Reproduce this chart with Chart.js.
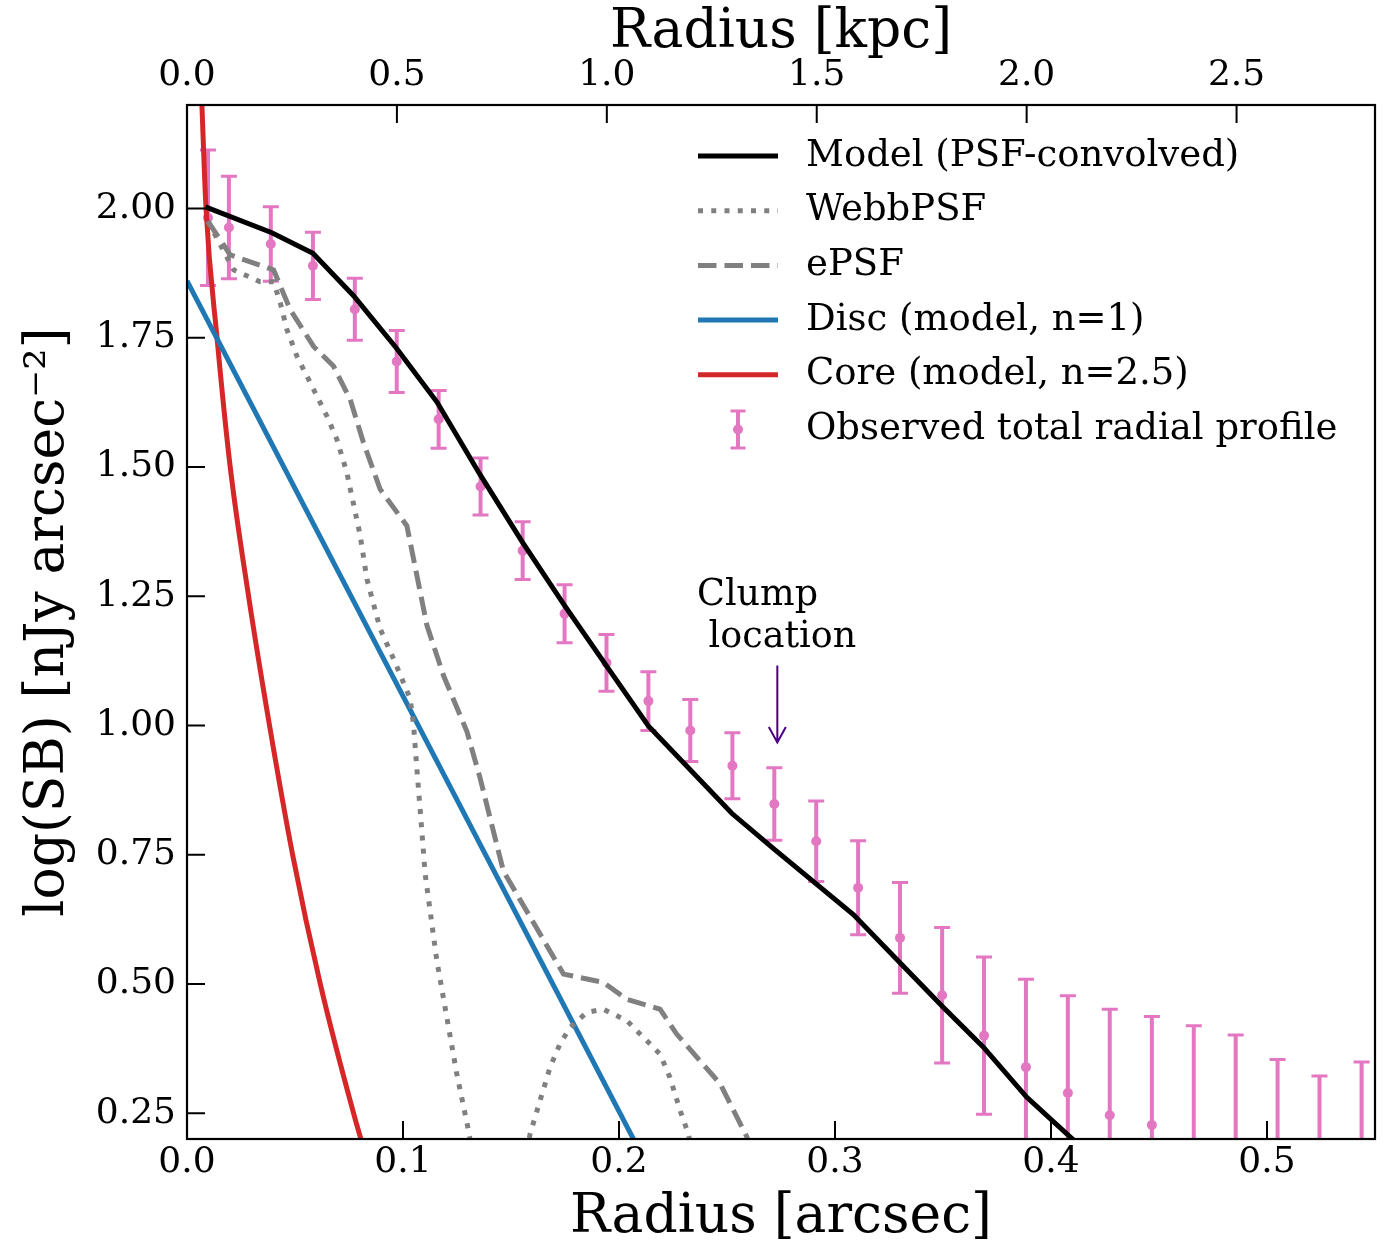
<!DOCTYPE html>
<html>
<head>
<meta charset="utf-8">
<script src="https://cdn.jsdelivr.net/npm/chart.js@4.4.1/dist/chart.umd.min.js"></script>
<style>
  html, body { margin: 0; padding: 0; background: #fff; }
</style>
</head>
<body>
<canvas id="myChart" width="1386" height="1245"></canvas>
<script>
const FONT = "'DejaVu Serif', serif";

// axis ticks
const X_TICKS = [0.0, 0.1, 0.2, 0.3, 0.4, 0.5];
const KPC_TICKS = [0.0, 0.5, 1.0, 1.5, 2.0, 2.5];
const Y_TICKS = [0.25, 0.50, 0.75, 1.00, 1.25, 1.50, 1.75, 2.00];
const X_MAX = 0.55;
const KPC_PER_ARCSEC = 5.145;

// observed radial profile (arcsec, log SB, error)
const OBS_X = [0.0097, 0.0194, 0.0388, 0.0583, 0.0777, 0.0971, 0.1165, 0.1359, 0.1554, 0.1748,
  0.1942, 0.2136, 0.2330, 0.2525, 0.2719, 0.2913, 0.3107, 0.3301, 0.3496, 0.3690,
  0.3884, 0.4078, 0.4272, 0.4467, 0.4661, 0.4855, 0.5049, 0.5243, 0.5438];
const OBS_Y = [1.982, 1.963, 1.931, 1.889, 1.805, 1.704, 1.592, 1.462, 1.338, 1.216,
  1.121, 1.047, 0.990, 0.922, 0.848, 0.776, 0.686, 0.589, 0.478, 0.400,
  0.339, 0.289, 0.246, 0.227, 0.190, 0.160, 0.100, 0.060, 0.080];
const OBS_ERR = [0.131, 0.099, 0.072, 0.065, 0.060, 0.060, 0.056, 0.055, 0.056, 0.056,
  0.055, 0.057, 0.060, 0.064, 0.070, 0.078, 0.091, 0.107, 0.131, 0.152,
  0.170, 0.188, 0.205, 0.210, 0.229, 0.241, 0.254, 0.262, 0.269];

// model (PSF-convolved)
const MODEL_X = [0.0085, 0.0393, 0.0583, 0.0771, 0.0969, 0.1158, 0.1357, 0.1552, 0.1746, 0.1942,
  0.2136, 0.2522, 0.2714, 0.3085, 0.3301, 0.3501, 0.3686, 0.3887, 0.4183];
const MODEL_Y = [2.003, 1.953, 1.913, 1.831, 1.730, 1.625, 1.485, 1.355, 1.233, 1.115,
  0.999, 0.830, 0.762, 0.634, 0.541, 0.455, 0.378, 0.281, 0.168];

// WebbPSF
const WEBB_X = [0.0097, 0.0216, 0.0339, 0.0401, 0.0432, 0.0463, 0.0509, 0.0586, 0.0648, 0.0694,
  0.0740, 0.0802, 0.0833, 0.0894, 0.0956, 0.1033, 0.1049, 0.1064, 0.1080, 0.1103,
  0.1157, 0.1203, 0.1249, 0.1303, 0.1330, 0.1560, 0.1589, 0.1635, 0.1681, 0.1727,
  0.1774, 0.1851, 0.1928, 0.2036, 0.2129, 0.2190, 0.2236, 0.2283, 0.2321, 0.2340];
const WEBB_Y = [1.975, 1.881, 1.858, 1.858, 1.817, 1.765, 1.714, 1.650, 1.598, 1.553,
  1.489, 1.367, 1.283, 1.187, 1.129, 1.052, 1.001, 0.917, 0.834, 0.711,
  0.544, 0.435, 0.326, 0.217, 0.150, 0.150, 0.211, 0.275, 0.339, 0.384,
  0.416, 0.445, 0.451, 0.429, 0.390, 0.364, 0.319, 0.255, 0.210, 0.170];

// ePSF
const EPSF_X = [0.0097, 0.0200, 0.0401, 0.0478, 0.0586, 0.0678, 0.0756, 0.0817, 0.0894, 0.1018,
  0.1111, 0.1187, 0.1296, 0.1357, 0.1465, 0.1743, 0.1928, 0.2036, 0.2190, 0.2267,
  0.2468, 0.2591, 0.2640];
const EPSF_Y = [1.975, 1.910, 1.881, 1.804, 1.733, 1.695, 1.630, 1.547, 1.457, 1.386,
  1.193, 1.097, 0.988, 0.898, 0.718, 0.519, 0.503, 0.470, 0.451, 0.403,
  0.307, 0.205, 0.150];

// Disc (n=1) and Core (n=2.5)
const DISC_X = [0.0, 0.22];
const DISC_Y = [1.860, 0.093];
const CORE_X = [0.0069, 0.0088, 0.0139, 0.0200, 0.0285, 0.0382, 0.0489, 0.0617, 0.0771, 0.0840];
const CORE_Y = [2.20, 2.00, 1.75, 1.50, 1.25, 1.00, 0.75, 0.50, 0.25, 0.15];

// clump annotation
const CLUMP_X = 0.2733;
const CLUMP_TAIL = 1.116;
const CLUMP_TIP = 0.967;
const CLUMP_TEXT_X = 0.2361;
const CLUMP_TEXT_Y = 1.232;

const PINK = '#e377c2';
const pts = (xs, ys) => xs.map((v, i) => ({ x: v, y: ys[i] }));

// 에러바 (스케일 기준)
const errorBars = {
  id: 'errorBars',
  beforeDatasetsDraw(chart) {
    const { ctx, chartArea: a, scales: { x, y } } = chart;
    ctx.save();
    ctx.beginPath();
    ctx.rect(a.left, a.top, a.right - a.left, a.bottom - a.top);
    ctx.clip();
    ctx.strokeStyle = PINK;
    OBS_X.forEach((v, i) => {
      const px = x.getPixelForValue(v);
      const top = y.getPixelForValue(OBS_Y[i] + OBS_ERR[i]);
      const bot = y.getPixelForValue(OBS_Y[i] - OBS_ERR[i]);
      ctx.lineWidth = 4;
      ctx.beginPath(); ctx.moveTo(px, top); ctx.lineTo(px, bot); ctx.stroke();
      ctx.lineWidth = 3;
      ctx.beginPath();
      ctx.moveTo(px - 8, top); ctx.lineTo(px + 8, top);
      ctx.moveTo(px - 8, bot); ctx.lineTo(px + 8, bot);
      ctx.stroke();
    });
    ctx.restore();
  }
};

// 프레임, 안쪽 눈금, 범례, 주석
const decorations = {
  id: 'decorations',
  afterDraw(chart) {
    const { ctx, chartArea: a, scales: { x, x2, y } } = chart;
    ctx.save();
    ctx.strokeStyle = '#000';
    ctx.lineWidth = 2;
    ctx.beginPath();
    Y_TICKS.forEach(v => { const p = y.getPixelForValue(v); ctx.moveTo(a.left, p); ctx.lineTo(a.left + 18, p); });
    X_TICKS.forEach(v => { const p = x.getPixelForValue(v); ctx.moveTo(p, a.bottom); ctx.lineTo(p, a.bottom - 18); });
    KPC_TICKS.forEach(v => { const p = x2.getPixelForValue(v); ctx.moveTo(p, a.top); ctx.lineTo(p, a.top + 18); });
    ctx.stroke();
    ctx.lineWidth = 2.2;
    ctx.strokeRect(a.left, a.top, a.right - a.left, a.bottom - a.top);

    // annotation
    const ax = x.getPixelForValue(CLUMP_X);
    const tail = y.getPixelForValue(CLUMP_TAIL);
    const tip = y.getPixelForValue(CLUMP_TIP);
    ctx.strokeStyle = '#4b0082';
    ctx.lineWidth = 2;
    ctx.beginPath();
    ctx.moveTo(ax, tail); ctx.lineTo(ax, tip);
    ctx.moveTo(ax - 8.5, tip - 15.5); ctx.lineTo(ax, tip); ctx.lineTo(ax + 8.5, tip - 15.5);
    ctx.stroke();
    ctx.fillStyle = '#000';
    ctx.font = '36.5px ' + FONT;
    ctx.textAlign = 'left';
    ctx.textBaseline = 'alphabetic';
    const tx = x.getPixelForValue(CLUMP_TEXT_X);
    const ty = y.getPixelForValue(CLUMP_TEXT_Y);
    ctx.fillText('Clump', tx, ty);
    ctx.fillText('location', tx + ctx.measureText(' ').width, ty + 42);

    // legend
    const hx0 = a.right - 677, hx1 = a.right - 597, textX = a.right - 569;
    ctx.font = '37px ' + FONT;
    ctx.textBaseline = 'middle';
    chart.data.datasets.forEach((ds, i) => {
      const ry = a.top + 51 + i * 54.7;
      if (ds.showLine) {
        ctx.strokeStyle = ds.borderColor;
        ctx.lineWidth = ds.borderWidth;
        ctx.setLineDash(ds.borderDash || []);
        ctx.lineCap = 'butt';
        ctx.beginPath(); ctx.moveTo(hx0, ry); ctx.lineTo(hx1, ry); ctx.stroke();
        ctx.setLineDash([]);
      } else {
        const cx = (hx0 + hx1) / 2;
        ctx.strokeStyle = PINK;
        ctx.lineWidth = 4;
        ctx.beginPath(); ctx.moveTo(cx, ry - 18.5); ctx.lineTo(cx, ry + 18.5); ctx.stroke();
        ctx.lineWidth = 3;
        ctx.beginPath();
        ctx.moveTo(cx - 7.5, ry - 18.5); ctx.lineTo(cx + 7.5, ry - 18.5);
        ctx.moveTo(cx - 7.5, ry + 18.5); ctx.lineTo(cx + 7.5, ry + 18.5);
        ctx.stroke();
        ctx.fillStyle = PINK;
        ctx.beginPath(); ctx.arc(cx, ry, 5, 0, Math.PI * 2); ctx.fill();
      }
      ctx.fillStyle = '#000';
      ctx.fillText(ds.label, textX, ry);
    });
    ctx.restore();
  }
};

const lineSet = (label, xs, ys, color, extra) => Object.assign({
  label,
  data: pts(xs, ys),
  showLine: true,
  borderColor: color,
  borderWidth: 5,
  pointRadius: 0,
  tension: 0,
  clip: 0
}, extra || {});

const config = {
  type: 'scatter',
  data: {
    datasets: [
      lineSet('Model (PSF-convolved)', MODEL_X, MODEL_Y, '#000000'),
      lineSet('WebbPSF', WEBB_X, WEBB_Y, '#808080', { borderDash: [5, 8.25] }),
      lineSet('ePSF', EPSF_X, EPSF_Y, '#808080', { borderDash: [18.5, 8] }),
      lineSet('Disc (model, n=1)', DISC_X, DISC_Y, '#1f77b4'),
      lineSet('Core (model, n=2.5)', CORE_X, CORE_Y, '#d62728', { cubicInterpolationMode: 'monotone' }),
      {
        label: 'Observed total radial profile',
        data: pts(OBS_X, OBS_Y),
        showLine: false,
        pointRadius: 5,
        pointBorderWidth: 0,
        pointBackgroundColor: PINK,
        order: 10,
        clip: 0
      }
    ]
  },
  options: {
    responsive: false,
    animation: false,
    devicePixelRatio: 1,
    layout: { padding: { left: 0, right: 11, top: 0, bottom: 0 } },
    plugins: { legend: { display: false }, tooltip: { enabled: false } },
    scales: {
      x: {
        type: 'linear', position: 'bottom', min: 0, max: X_MAX,
        afterBuildTicks: s => { s.ticks = X_TICKS.map(v => ({ value: v })); },
        afterFit: s => { s.height = 106; },
        grid: { display: false, drawTicks: false },
        border: { display: false },
        ticks: { padding: 2, color: '#000', font: { family: FONT, size: 36 }, maxRotation: 0, callback: v => v.toFixed(1) },
        title: { display: true, text: 'Radius [arcsec]', color: '#000', font: { family: FONT, size: 53.5 }, padding: { top: 0, bottom: -5 } }
      },
      x2: {
        type: 'linear', position: 'top', min: 0, max: X_MAX * KPC_PER_ARCSEC,
        afterBuildTicks: s => { s.ticks = KPC_TICKS.map(v => ({ value: v })); },
        afterFit: s => { s.height = 105; },
        grid: { display: false, drawTicks: false },
        border: { display: false },
        ticks: { padding: 8, color: '#000', font: { family: FONT, size: 36 }, maxRotation: 0, callback: v => v.toFixed(1) },
        title: { display: true, text: 'Radius [kpc]', color: '#000', font: { family: FONT, size: 53.5 }, padding: { top: 1, bottom: 0 } }
      },
      y: {
        type: 'linear', position: 'left', min: 0.2, max: 2.2,
        afterBuildTicks: s => { s.ticks = Y_TICKS.map(v => ({ value: v })); },
        afterFit: s => { s.width = 187; },
        grid: { display: false, drawTicks: false },
        border: { display: false },
        ticks: { padding: 11, color: '#000', font: { family: FONT, size: 36 }, callback: v => v.toFixed(2) },
        title: { display: true, text: 'log(SB) [nJy arcsec⁻²]', color: '#000', font: { family: FONT, size: 53.5 }, padding: { top: 17, bottom: 0 } }
      }
    }
  },
  plugins: [errorBars, decorations]
};

const myChart = new Chart(document.getElementById('myChart'), config);
</script>
</body>
</html>
